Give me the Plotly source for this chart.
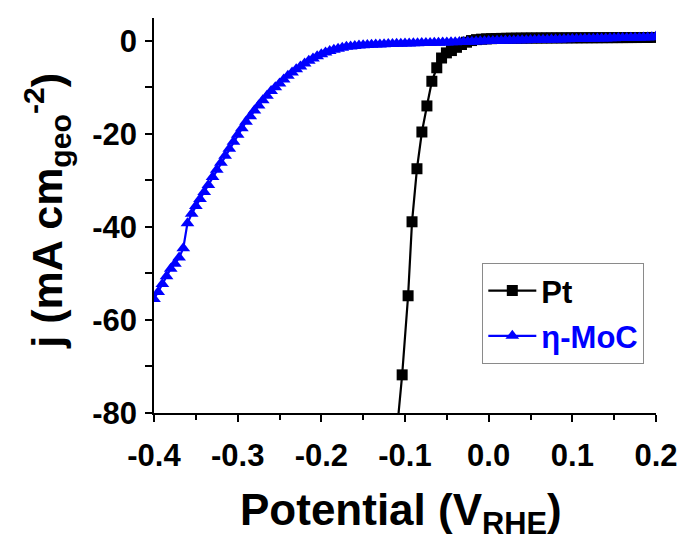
import plotly.graph_objects as go

# Pt data (potential V vs RHE, current density mA cm^-2)
pt_potential = [-0.1095, -0.1034, -0.0963, -0.0916, -0.0857, -0.0798, -0.0738, -0.0679,
                -0.0620, -0.0563, -0.0505, -0.0445, -0.0385, -0.0325, -0.0265, -0.0205,
                -0.0145, -0.0085, -0.0025, 0.0035, 0.0095, 0.0155, 0.0215, 0.0275,
                0.0335, 0.0395, 0.0455, 0.0515, 0.0575, 0.0635, 0.0695, 0.0755,
                0.0815, 0.0875, 0.0935, 0.0995, 0.1055, 0.1115, 0.1175, 0.1235,
                0.1295, 0.1355, 0.1415, 0.1475, 0.1535, 0.1595, 0.1655, 0.1715,
                0.1775, 0.1835, 0.1895, 0.1955]
pt_current = [-83.5, -71.8, -54.8, -38.9, -27.5, -19.6, -14.0, -8.7,
              -5.8, -3.7, -2.6, -2.1, -1.4, -0.8, -0.3, 0.05,
              0.25, 0.35, 0.42, 0.46, 0.5, 0.52, 0.54, 0.56,
              0.57, 0.58, 0.59, 0.6, 0.6, 0.61, 0.61, 0.62,
              0.62, 0.63, 0.63, 0.64, 0.64, 0.65, 0.65, 0.66,
              0.66, 0.67, 0.67, 0.68, 0.68, 0.69, 0.69, 0.7,
              0.7, 0.71, 0.71, 0.72]

# eta-MoC data
moc_potential = [-0.400, -0.395, -0.390, -0.385, -0.380, -0.375, -0.370, -0.365, -0.360, -0.355,
                 -0.350, -0.345, -0.340, -0.335, -0.330, -0.325, -0.320, -0.315, -0.310, -0.305,
                 -0.300, -0.295, -0.290, -0.285, -0.280, -0.275, -0.270, -0.265, -0.260, -0.255,
                 -0.250, -0.245, -0.240, -0.235, -0.230, -0.225, -0.220, -0.215, -0.210, -0.205,
                 -0.200, -0.195, -0.190, -0.185, -0.180, -0.175, -0.170, -0.165, -0.160, -0.155,
                 -0.150, -0.145, -0.140, -0.135, -0.130, -0.125, -0.120, -0.115, -0.110, -0.105,
                 -0.100, -0.095, -0.090, -0.085, -0.080, -0.075, -0.070, -0.065, -0.060, -0.055,
                 -0.050, -0.045, -0.040, -0.035, -0.030, -0.025, -0.020, -0.015, -0.010, -0.005,
                 0.000, 0.005, 0.010, 0.015, 0.020, 0.025, 0.030, 0.035, 0.040, 0.045,
                 0.050, 0.055, 0.060, 0.065, 0.070, 0.075, 0.080, 0.085, 0.090, 0.095,
                 0.100, 0.105, 0.110, 0.115, 0.120, 0.125, 0.130, 0.135, 0.140, 0.145,
                 0.150, 0.155, 0.160, 0.165, 0.170, 0.175, 0.180, 0.185, 0.190, 0.195,
                 0.200]
moc_current = [-55.5, -54.0, -52.3, -50.6, -49.0, -47.9, -46.6, -44.6, -39.2, -37.2,
               -35.5, -34.0, -32.5, -31.0, -29.3, -27.7, -26.2, -24.7, -23.2, -21.7,
               -20.2, -18.8, -17.4, -16.2, -15.0, -13.9, -12.8, -11.8, -10.8, -10.0,
               -9.2, -8.3, -7.5, -6.8, -6.1, -5.5, -4.9, -4.3, -3.8, -3.3,
               -2.9, -2.5, -2.2, -1.9, -1.7, -1.5, -1.3, -1.2, -1.1, -1.0,
               -0.95, -0.9, -0.85, -0.8, -0.77, -0.74, -0.7, -0.68, -0.65, -0.62,
               -0.6, -0.57, -0.55, -0.52, -0.5, -0.48, -0.45, -0.43, -0.4, -0.37,
               -0.35, -0.32, -0.3, -0.27, -0.24, -0.21, -0.18, -0.15, -0.12, -0.09,
               -0.06, -0.03, 0.0, 0.02, 0.04, 0.06, 0.08, 0.1, 0.12, 0.14,
               0.16, 0.18, 0.2, 0.22, 0.24, 0.26, 0.28, 0.3, 0.32, 0.34,
               0.36, 0.38, 0.4, 0.42, 0.44, 0.46, 0.48, 0.5, 0.52, 0.54,
               0.56, 0.58, 0.6, 0.62, 0.64, 0.66, 0.68, 0.7, 0.73, 0.78,
               0.9]

x_tickvals = [-0.4, -0.3, -0.2, -0.1, 0.0, 0.1, 0.2]
x_ticktext = ["-0.4", "-0.3", "-0.2", "-0.1", "0.0", "0.1", "0.2"]
y_tickvals = [0, -20, -40, -60, -80]
y_ticktext = ["0", "-20", "-40", "-60", "-80"]

FONT = "Liberation Sans, Arial, sans-serif"

fig = go.Figure()
fig.add_trace(go.Scatter(
    x=pt_potential, y=pt_current, mode="lines+markers", name="<b>Pt</b>",
    line=dict(color="black", width=2.2),
    marker=dict(symbol="square", size=11, color="black"),
    legendgroup="a",
))
fig.add_trace(go.Scatter(
    x=moc_potential, y=moc_current, mode="lines+markers",
    name="<b><span style='color:#0000FF'>η-MoC</span></b>",
    line=dict(color="#0000FF", width=2.2),
    marker=dict(symbol="triangle-up", size=12, color="#0000FF"),
    legendgroup="b",
))

fig.update_layout(
    width=680, height=529,
    margin=dict(l=146, r=28, t=10, b=124),
    paper_bgcolor="white", plot_bgcolor="white",
    font=dict(family=FONT, color="black"),
    legend=dict(
        x=0.654, y=0.38, xanchor="left", yanchor="top",
        bgcolor="white", bordercolor="#8a8a8a", borderwidth=1,
        font=dict(family=FONT, size=31, color="black"),
        tracegroupgap=2, itemwidth=48,
    ),
    xaxis=dict(
        range=[-0.4, 0.2], tickvals=x_tickvals, ticktext=x_ticktext,
        showgrid=False, zeroline=False, showline=True, linecolor="black", linewidth=1.5,
        ticks="outside", ticklen=7, tickwidth=1.5, tickcolor="black",
        minor=dict(dtick=0.05, ticks="outside", ticklen=5, tickwidth=1.5, tickcolor="black"),
        tickfont=dict(family=FONT, size=31, color="black", weight="bold"),
        ticklabelstandoff=7,
    ),
    yaxis=dict(
        range=[-80, 4.9], tickvals=y_tickvals, ticktext=y_ticktext,
        showgrid=False, zeroline=False, showline=True, linecolor="black", linewidth=1.5,
        ticks="outside", ticklen=7, tickwidth=1.5, tickcolor="black",
        minor=dict(dtick=10, ticks="outside", ticklen=7, tickwidth=1.5, tickcolor="black"),
        tickfont=dict(family=FONT, size=31, color="black", weight="bold"),
        ticklabelstandoff=2,
    ),
    annotations=[
        dict(
            text="<b>j (mA cm<sub>geo</sub><sup>-2</sup>)</b>",
            font=dict(family=FONT, size=43, color="black"),
            textangle=-90, xref="paper", yref="paper",
            x=-0.2134, y=0.512, xanchor="center", yanchor="middle", showarrow=False,
        ),
        dict(
            text="<b>Potential (V<sub>RHE</sub>)</b>",
            font=dict(family=FONT, size=44, color="black"),
            xref="paper", yref="paper",
            x=0.492, y=-0.253, xanchor="center", yanchor="middle", showarrow=False,
        ),
    ],
)

fig.write_html("out.html")
